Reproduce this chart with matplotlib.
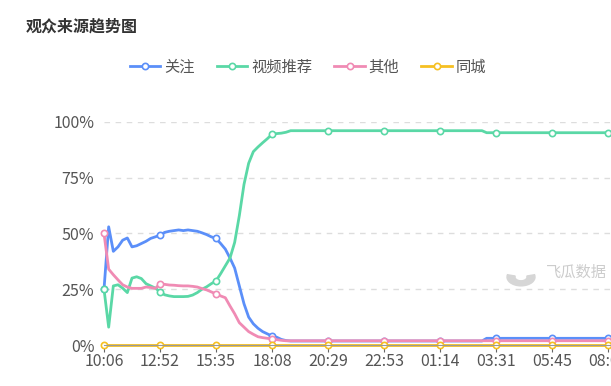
import matplotlib
matplotlib.use("Agg")
import matplotlib.pyplot as plt
from matplotlib.patches import Wedge
from matplotlib.ticker import FuncFormatter

plt.rcParams['font.family'] = ['Noto Sans CJK SC', 'DejaVu Sans']

# category labels, one every 12 samples
tick_labels = ["10:06", "12:52", "15:35", "18:08", "20:29", "22:53",
               "01:14", "03:31", "05:45", "08:00"]
step = 12

follow = [25, 53, 42, 44, 47, 48, 44, 44.5, 45.5, 46.5, 47.8, 48.5,
          49.3, 50.5, 51, 51.3, 51.6, 51.3, 51.6, 51.3, 51, 50.3, 49.5, 48.5,
          47.8, 45.5, 43, 39, 34.5, 26.5, 18.5, 12.5, 9.5, 7.5, 6, 5,
          4, 3.5, 2.5, 2] + [1.8] * 42 + [3] * 29
recommend = [25, 8, 26.5, 27, 25.5, 23.5, 30, 30.6, 29.8, 27.5, 26.5, 25.5,
             23.9, 22.5, 22, 21.7, 21.7, 21.7, 21.8, 22.4, 23.5, 25, 26.1, 27.5,
             28.7, 32, 35.5, 39, 46, 58, 72, 81.5, 86.7, 88.8, 90.7, 92.5,
             94.5, 94.8, 95, 95.4] + [96.1] * 42 + [95.2] * 29
other = [50, 34, 31.5, 29.2, 27, 26, 25.4, 25.4, 25.4, 26, 25.8, 25.4,
         27.4, 27.2, 26.9, 26.8, 26.6, 26.5, 26.5, 26.3, 26, 25.3, 24.7, 23.8,
         22.9, 22, 21.2, 17.5, 14, 10, 8, 6, 4.8, 3.7, 3.3, 3,
         2.7, 2.4, 2.1] + [1.9] * 72
local = [0] * 111

series = [("关注", follow, "#5B8FF9"),
          ("视频推荐", recommend, "#5AD8A6"),
          ("其他", other, "#F08BB4"),
          ("同城", local, "#F6C022")]

fig = plt.figure(figsize=(6.11, 3.86), dpi=100)
ax = fig.add_axes([104 / 611, 41 / 386, 513.3 / 611, 223 / 386])

for name, vals, col in series:
    ax.plot(range(len(vals)), [v / 100 for v in vals], color=col, lw=2,
            marker="o", markevery=step, markersize=4.5,
            markerfacecolor="white", markeredgecolor=col, markeredgewidth=1.2,
            label=name, clip_on=False, solid_joinstyle="round")

ax.set_xlim(0, 110)
ax.set_ylim(0, 1)
ax.set_yticks([0, 0.25, 0.5, 0.75, 1])
ax.yaxis.set_major_formatter(FuncFormatter(lambda v, p: f"{int(round(v * 100))}%"))
ax.set_xticks(range(0, step * len(tick_labels), step))
ax.set_xticklabels(tick_labels)
ax.grid(axis="y", color="#dddddd", ls=(0, (4, 4)), lw=1)
ax.set_axisbelow(True)
for s in ["top", "right", "left"]:
    ax.spines[s].set_visible(False)
ax.spines["bottom"].set_color("#999999")
ax.tick_params(axis="y", length=0, pad=7, labelsize=11.5, labelcolor="#555555")
ax.tick_params(axis="x", length=5, color="#666666", pad=1, labelsize=11.5,
               labelcolor="#555555")

fig.text(26 / 611, 1 - 27 / 386, "观众来源趋势图", fontsize=11.5, fontweight="bold",
         color="#333333", va="center", ha="left")

fig.legend(loc="center left", bbox_to_anchor=(116 / 611, 1 - 67 / 386), ncol=4,
           frameon=False, fontsize=11, handlelength=2.0, handletextpad=0.25,
           columnspacing=1.45, labelcolor="#555555")

# watermark
fig.text(546 / 611, 1 - 272 / 386, "飞瓜数据", fontsize=11, color="#cccccc",
         va="center", ha="left")
fig.patches.append(Wedge((521 / 611, 1 - 277 / 386), 14 / 611, 165, 375,
                         width=8 / 611, transform=fig.transFigure,
                         color="#d6d6d6", zorder=0))

fig.savefig("out.png", dpi=100)
